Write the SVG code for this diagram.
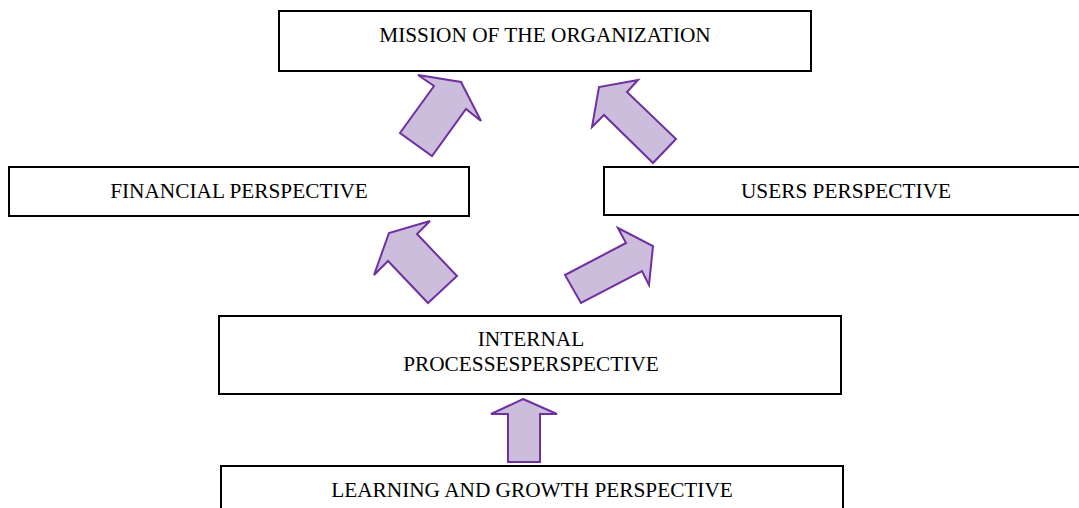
<svg xmlns="http://www.w3.org/2000/svg" width="1079" height="508" viewBox="0 0 1079 508">
<style>
.box{fill:#fff;stroke:#000;stroke-width:2}
.t{font-family:"Liberation Serif",serif;font-size:21.3px;fill:#000;text-anchor:middle}
.arr{fill:#CBBDDB;stroke:#7030A0;stroke-width:2;stroke-linejoin:miter}
</style>
<rect width="1079" height="508" fill="#fff"/>
<g id="connectors">
<polygon class="arr" points="418,75 461,82 481,121 466,109 432,156 400,133 434,86"/>
<polygon class="arr" points="638,80 599,87 592,127 604,115 653,163 676,139 627,92"/>
<polygon class="arr" points="430,221 389,233 374,275 388,261 428,303 457,276 417,234"/>
<polygon class="arr" points="618,228 653,246 649,285 642,271 581,303 565,275 626,243"/>
<polygon class="arr" points="523,399 557,414 540,414 540,462 508,462 508,414 491,414"/>
</g>
<g id="mission">
<rect class="box" x="279" y="11" width="532" height="60"/>
<text class="t" x="545" y="42">MISSION OF THE ORGANIZATION</text>
</g>
<g id="financial">
<rect class="box" x="9" y="167" width="460" height="49"/>
<text class="t" x="239" y="198">FINANCIAL PERSPECTIVE</text>
</g>
<g id="users">
<rect class="box" x="604" y="167" width="480" height="48"/>
<text class="t" x="846" y="198">USERS PERSPECTIVE</text>
</g>
<g id="internal">
<rect class="box" x="219" y="316" width="622" height="78"/>
<text class="t" x="531" y="346">INTERNAL</text>
<text class="t" x="531" y="371">PROCESSESPERSPECTIVE</text>
</g>
<g id="learning">
<rect class="box" x="221" y="466" width="622" height="50"/>
<text class="t" x="532" y="497">LEARNING AND GROWTH PERSPECTIVE</text>
</g>
</svg>
